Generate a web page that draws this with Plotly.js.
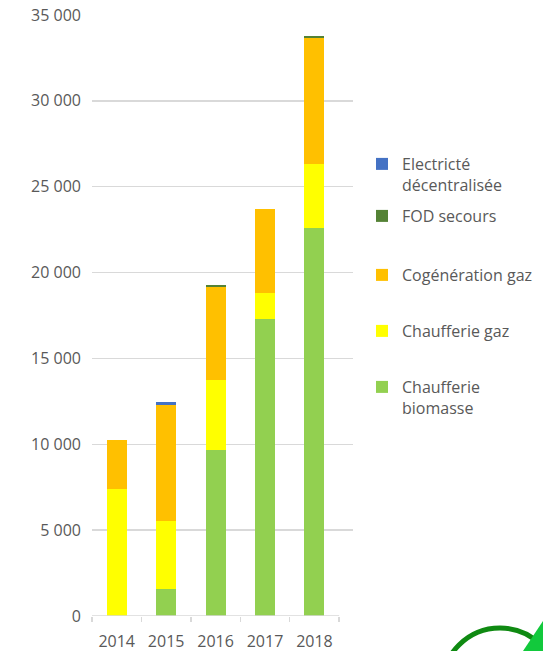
<!DOCTYPE html>
<html>
<head>
<meta charset="utf-8">
<script src="https://cdn.plot.ly/plotly-3.0.1.min.js"></script>
<style>html,body{margin:0;padding:0;background:#fff;}#chart{width:543px;height:651px;}</style>
</head>
<body>
<div id="chart"></div>
<script>
const years = ["2014", "2015", "2016", "2017", "2018"];
const biomasse = [0, 1575, 9640, 17310, 22620];
const chaufferieGaz = [7410, 3985, 4130, 1480, 3690];
const cogeneration = [2820, 6730, 5410, 4890, 7350];
const fodSecours = [0, 0, 70, 50, 90];
const electricite = [0, 200, 0, 0, 0];

const names = ["Chaufferie<br>biomasse", "Chaufferie gaz", "Cogénération gaz", "FOD secours", "Electricté<br>décentralisée"];
const colors = ["#92D050", "#FFFF00", "#FFC000", "#548235", "#4472C4"];
const series = [biomasse, chaufferieGaz, cogeneration, fodSecours, electricite];
const legendIds = ["legend5", "legend4", "legend3", "legend2", "legend"];

const W = 543, H = 651;
const mL = 92, mR = 190, mT = 15, mB = 35;
const plotW = W - mL - mR, plotH = H - mT - mB;
const px2x = px => (px - mL) / plotW;
const py2y = py => (H - mB - py) / plotH;

const traces = series.map((vals, i) => ({
  type: "bar",
  x: years,
  y: vals,
  name: names[i],
  marker: { color: colors[i], line: { width: 0 } },
  legend: legendIds[i],
  hoverinfo: "x+y+name"
}));

const legendFont = { family: "Open Sans, sans-serif", size: 16, color: "#595959" };
const legX = px2x(362);
function leg(yPx, anchor) {
  return { x: legX, xanchor: "left", y: py2y(yPx), yanchor: anchor, font: legendFont,
           bgcolor: "rgba(0,0,0,0)", borderwidth: 0, valign: "top", itemclick: false };
}

const layout = {
  width: W, height: H,
  margin: { l: mL, r: mR, t: mT, b: mB, pad: 0, autoexpand: false },
  paper_bgcolor: "#ffffff",
  plot_bgcolor: "#ffffff",
  barmode: "stack",
  bargap: 0.595,
  separators: ", ",
  showlegend: true,
  font: { family: "Open Sans, sans-serif", size: 16, color: "#595959" },
  xaxis: {
    type: "category",
    range: [-0.5, 4.78],
    tickson: "boundaries",
    ticks: "outside",
    ticklen: 5,
    tickcolor: "#d9d9d9",
    tickwidth: 1.5,
    showline: false,
    showgrid: false,
    zeroline: false,
    ticklabelstandoff: 14,
    tickfont: { family: "Open Sans, sans-serif", size: 16, color: "#595959" }
  },
  yaxis: {
    range: [0, 35000],
    dtick: 5000,
    tick0: 0,
    tickformat: ",d",
    showgrid: true,
    gridcolor: "#d9d9d9",
    gridwidth: 1.5,
    zeroline: false,
    showline: false,
    ticks: "",
    ticklabelstandoff: 10,
    tickfont: { family: "Open Sans, sans-serif", size: 16, color: "#595959" }
  },
  legend: leg(147, "top"),
  legend2: leg(216, "middle"),
  legend3: leg(275, "middle"),
  legend4: leg(331, "middle"),
  legend5: leg(370, "top"),
  shapes: [
    { type: "line", xref: "x", yref: "y", x0: -0.5, x1: 4.5, y0: 0, y1: 0,
      line: { color: "#d9d9d9", width: 1.5 }, layer: "above" },
    { type: "circle", xref: "paper", yref: "paper",
      x0: px2x(442), x1: px2x(558), y0: py2y(628), y1: py2y(744),
      line: { color: "#0f8a12", width: 5 }, layer: "above" },
    { type: "path", xref: "paper", yref: "paper",
      path: "M " + px2x(543) + "," + py2y(621) + " L " + px2x(560) + "," + py2y(621) +
            " L " + px2x(560) + "," + py2y(660) + " L " + px2x(517) + "," + py2y(660) + " Z",
      fillcolor: "#12c93c", line: { width: 0 }, layer: "above" }
  ]
};

Plotly.newPlot("chart", traces, layout, { displayModeBar: false, staticPlot: true });
</script>
</body>
</html>
